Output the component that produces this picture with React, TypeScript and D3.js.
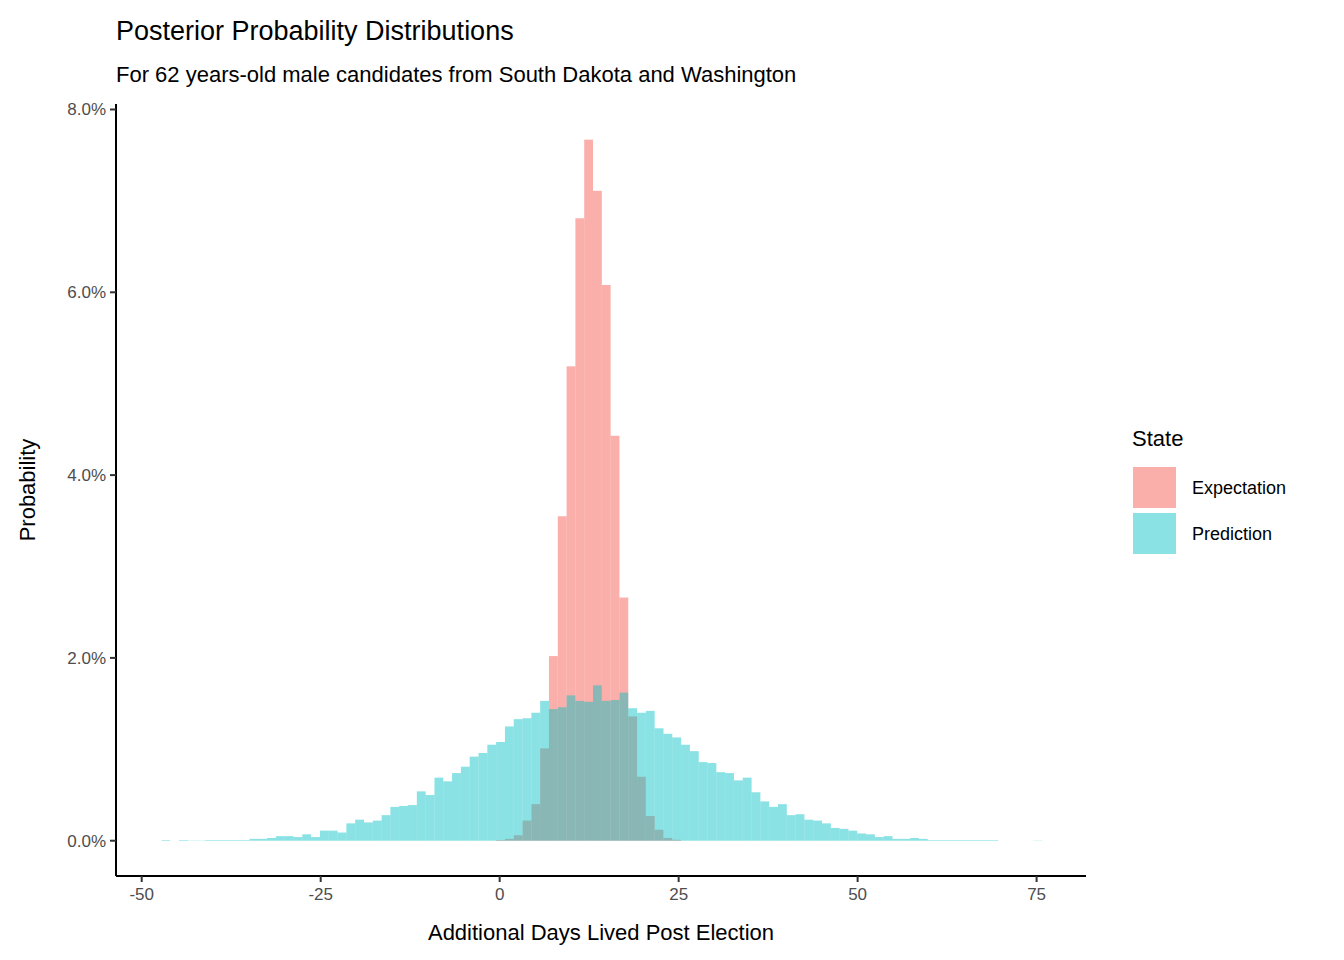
import * as d3 from "d3";

// histogram bins (percent per bin), bin 0 starts at binStart
const binStart = -47.25;
const binWidth = 1.2304;

const predictionValues = [
  0.007, 0, 0.007, 0.003, 0.003, 0.007, 0.007, 0.007, 0.007, 0.007,
  0.02, 0.02, 0.03, 0.05, 0.05, 0.04, 0.07, 0.04, 0.11, 0.11,
  0.09, 0.19, 0.23, 0.2, 0.22, 0.28, 0.37, 0.38, 0.39, 0.54,
  0.5, 0.69, 0.65, 0.74, 0.81, 0.92, 0.96, 1.05, 1.08, 1.25,
  1.33, 1.34, 1.4, 1.53, 1.44, 1.46, 1.59, 1.53, 1.52, 1.7,
  1.53, 1.54, 1.62, 1.45, 1.4, 1.42, 1.23, 1.17, 1.13, 1.05,
  0.98, 0.86, 0.85, 0.75, 0.74, 0.66, 0.69, 0.53, 0.43, 0.37,
  0.4, 0.28, 0.29, 0.23, 0.22, 0.19, 0.14, 0.13, 0.11, 0.08,
  0.07, 0.04, 0.05, 0.02, 0.02, 0.03, 0.02, 0.007, 0.007, 0.007,
  0.007, 0.007, 0.007, 0.007, 0.007, 0, 0, 0, 0, 0.003,
];

// expectation bins start at bin index 37
const expectationFirstBin = 37;
const expectationValues = [
  0, 0.007, 0.02, 0.06, 0.22, 0.4, 1.01, 2.02, 3.55, 5.19,
  6.81, 7.67, 7.11, 6.08, 4.43, 2.66, 1.36, 0.7, 0.27, 0.12,
  0.03, 0.01,
];

const xTicks = [-50, -25, 0, 25, 50, 75];
const yTicks = [0, 2, 4, 6, 8];
const legendItems = ["Expectation", "Prediction"];

const pink = "#F8766D";
const teal = "#00BFC4";

const W = 1344;
const H = 960;
const plot = { left: 116, right: 1086, top: 104, bottom: 876 };

export default function App() {
  const x = d3.scaleLinear([-53.59, 81.9], [plot.left, plot.right]);
  const y = d3.scaleLinear([-0.386, 8.06], [plot.bottom, plot.top]);
  const font = "Liberation Sans, Arial, sans-serif";

  const bar = (i: number, v: number, fill: string, op: number, key: string) => {
    const x0 = binStart + i * binWidth;
    return (
      <rect
        key={key}
        x={x(x0)}
        width={x(x0 + binWidth) - x(x0)}
        y={y(v)}
        height={Math.max(0, y(0) - y(v))}
        fill={fill}
        fillOpacity={op}
      />
    );
  };

  return (
    <svg width={W} height={H} style={{ position: "absolute", left: 0, top: 0 }} fontFamily={font}>
      <rect width={W} height={H} fill="white" />
      <text x={116} y={40} fontSize={27}>Posterior Probability Distributions</text>
      <text x={116} y={82} fontSize={22}>For 62 years-old male candidates from South Dakota and Washington</text>

      {expectationValues.map((v, i) => bar(i + expectationFirstBin, v, pink, 0.58, "e" + i))}
      {predictionValues.map((v, i) => bar(i, v, teal, 0.46, "p" + i))}

      <line x1={plot.left} x2={plot.left} y1={plot.top} y2={plot.bottom} stroke="black" strokeWidth={2} />
      <line x1={plot.left} x2={plot.right} y1={plot.bottom} y2={plot.bottom} stroke="black" strokeWidth={2} />

      {yTicks.map((t) => (
        <g key={t} transform={`translate(0,${y(t)})`}>
          <line x1={plot.left - 6} x2={plot.left} stroke="#333" strokeWidth={2} />
          <text x={plot.left - 10} dy="0.35em" textAnchor="end" fontSize={17} fill="#4d4d4d">
            {t.toFixed(1)}%
          </text>
        </g>
      ))}
      {xTicks.map((t) => (
        <g key={t} transform={`translate(${x(t)},0)`}>
          <line y1={plot.bottom} y2={plot.bottom + 6} stroke="#333" strokeWidth={2} />
          <text y={plot.bottom + 24} textAnchor="middle" fontSize={17} fill="#4d4d4d">
            {t}
          </text>
        </g>
      ))}

      <text x={(plot.left + plot.right) / 2} y={940} textAnchor="middle" fontSize={22}>
        Additional Days Lived Post Election
      </text>
      <text transform={`translate(35,${(plot.top + plot.bottom) / 2}) rotate(-90)`} textAnchor="middle" fontSize={22}>
        Probability
      </text>

      <text x={1132} y={446} fontSize={22}>State</text>
      {legendItems.map((name, i) => (
        <g key={name} transform={`translate(1133,${467 + i * 46})`}>
          <rect width={43} height={41} fill={i === 0 ? pink : teal} fillOpacity={i === 0 ? 0.58 : 0.46} />
          <text x={59} y={21} dy="0.35em" fontSize={18}>{name}</text>
        </g>
      ))}
    </svg>
  );
}
